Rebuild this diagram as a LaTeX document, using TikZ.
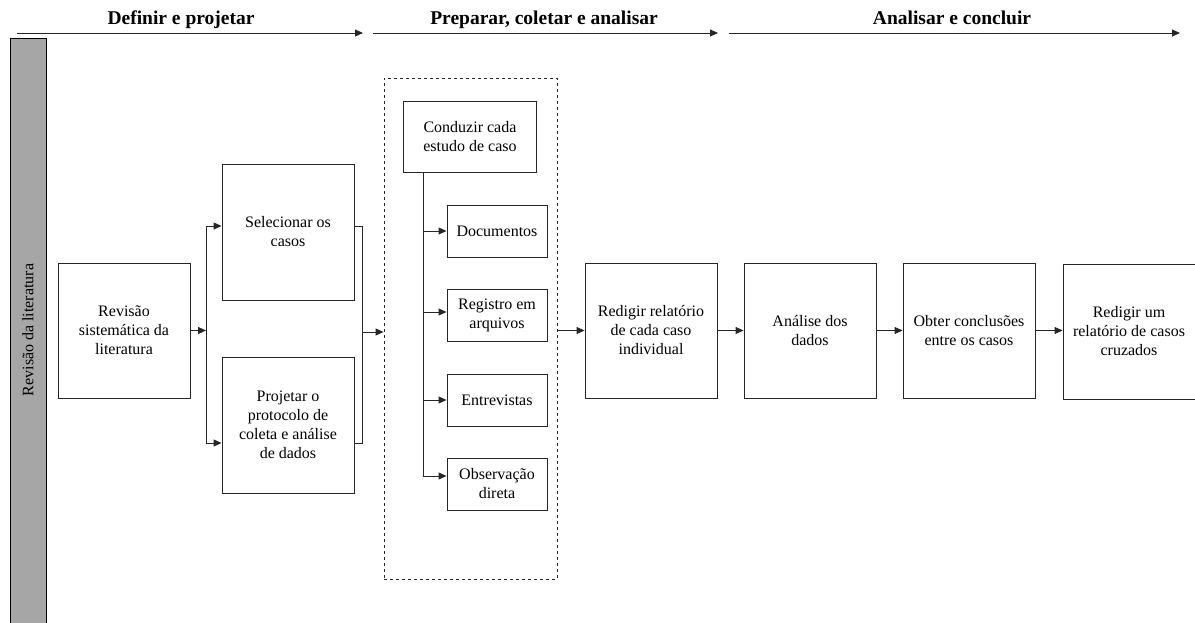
\documentclass[tikz,border=0pt]{standalone}
\usepackage{fontspec}
\setmainfont{LiberationSerif}[Extension=.ttf,UprightFont=*-Regular,BoldFont=*-Bold,ItalicFont=*-Italic,BoldItalicFont=*-BoldItalic]
\usetikzlibrary{arrows.meta,calc}
\begin{document}
\begin{tikzpicture}[x=1pt,y=-1pt,
  lin/.style={draw=black!85,line width=0.9pt},
  arr/.style={lin,-{Triangle[length=8pt,width=7pt]}},
  box/.style={lin,rectangle,inner sep=0pt,align=center,font=\fontsize{16}{19}\selectfont},
  bigbox/.style={box,minimum width=132pt,minimum height=135pt},
  subbox/.style={box,minimum width=100pt,minimum height=52pt},
  head/.style={anchor=base,font=\fontsize{19.5}{22}\selectfont\bfseries}
]
\useasboundingbox (0,0) rectangle (1195,623);
% phase arrows and titles
\coordinate (a1s) at (17,33); \coordinate (a1e) at (363,33);
\coordinate (a2s) at (373,33); \coordinate (a2e) at (718,33);
\coordinate (a3s) at (729,33); \coordinate (a3e) at (1180,33);
\draw[arr] (a1s) -- (a1e);
\draw[arr] (a2s) -- (a2e);
\draw[arr] (a3s) -- (a3e);
\node[head] (h1) at (181,25) {Definir e projetar};
\node[head] (h2) at (544,25) {Preparar, coletar e analisar};
\node[head] (h3) at (952,25) {Analisar e concluir};
% gray bar
\draw[draw=black,line width=0.9pt,fill=black!35] (10,38) rectangle (46,640);
\node[rotate=90,font=\fontsize{16}{19}\selectfont] (lit) at (28,330) {Revisão da literatura};
% main boxes
\node[bigbox] (rev) at (124,330.5) {Revisão\\sistemática da\\literatura};
\node[bigbox,minimum height=136pt] (sel) at (288,232) {Selecionar os\\casos};
\node[bigbox,minimum height=136pt] (proj) at (288,425) {Projetar o\\protocolo de\\coleta e análise\\de dados};
\node[lin,dashed,rectangle,minimum width=173pt,minimum height=501pt,inner sep=0pt] (grp) at (470.5,328.5) {};
\node[box,minimum width=133pt,minimum height=71pt] (cond) at (470,136.5) {Conduzir cada\\estudo de caso};
\node[subbox] (doc) at (497,231) {Documentos};
\node[subbox] (reg) at (497,315) {Registro em\\arquivos};
\node[subbox] (ent) at (497,400) {Entrevistas};
\node[subbox] (obs) at (497,484) {Observação\\direta};
\node[bigbox] (red) at (651,330.5) {Redigir relatório\\de cada caso\\individual};
\node[bigbox] (ana) at (810,330.5) {Análise dos\\dados};
\node[bigbox] (obt) at (969,330.5) {Obter conclusões\\entre os casos};
\node[bigbox] (red2) at (1129,331.5) {Redigir um\\relatório de casos\\cruzados};
% split / merge
\coordinate (sl) at (206,329);
\coordinate (selin) at ([yshift=6pt]sel.west);
\coordinate (projin) at ([yshift=-18pt]proj.west);
\coordinate (selout) at ([yshift=6pt]sel.east);
\coordinate (projout) at ([yshift=-18pt]proj.east);
\coordinate (mx) at (362,332);
\draw[arr] (rev.east) -- (rev.east -| sl);
\draw[lin] (selin -| sl) -- (projin -| sl);
\draw[arr] (selin -| sl) -- (selin);
\draw[arr] (projin -| sl) -- (projin);
\draw[lin] (selout) -- (selout -| mx) -- (projout -| mx) -- (projout);
\draw[arr] (mx) -- (mx -| grp.west);
% trunk inside group
\coordinate (t0) at ([xshift=20pt]cond.south west);
\coordinate (obsin) at ([yshift=8pt]obs.west);
\draw[arr] (t0) |- (obsin);
\draw[arr] (t0 |- doc.west) -- (doc.west);
\draw[arr] ([yshift=3pt]reg.west -| t0) -- ([yshift=3pt]reg.west);
\draw[arr] (t0 |- ent.west) -- (ent.west);
% chain
\draw[arr] (grp.east |- red.west) -- (red.west);
\draw[arr] (red.east) -- (ana.west);
\draw[arr] (ana.east) -- (obt.west);
\draw[arr] (obt.east) -- (obt.east -| red2.west);
\end{tikzpicture}
\end{document}
